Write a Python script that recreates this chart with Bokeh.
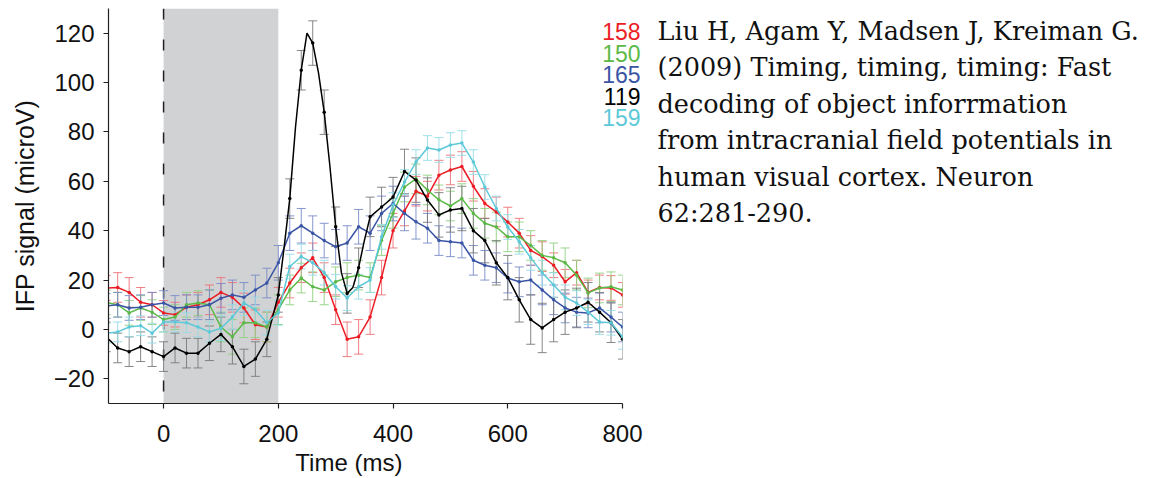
from bokeh.plotting import figure
from bokeh.layouts import row
from bokeh.models import (ColumnDataSource, Whisker, TeeHead, BoxAnnotation, Span,
                          Label, FixedTicker, Range1d)
from bokeh.embed import file_html
from bokeh.resources import INLINE

# ---------------- data ----------------
times = list(range(-100, 801, 20))

red_v = [16.8, 17, 15, 11, 10, 6.7, 6, 9, 10, 12, 15, 13, 8.7, 1.9, 1, 11, 18.8, 25, 29, 21,
         8, -4, -3, 5, 21, 40, 48, 56, 54, 62.5, 64.6, 66, 58, 51, 47.6, 43.5, 39, 32, 29.5, 26,
         19.3, 23, 15, 17, 16.8, 14]
red_err = [5, 6, 6, 6, 5, 5, 5, 5, 5, 6, 6, 6, 6, 6, 6, 6, 6, 6, 6, 6, 6, 7, 7, 7, 7, 7, 6, 6,
           6, 6, 6, 6, 6, 6, 6, 6, 6, 6, 6, 5, 5, 5, 5, 5, 5, 5]

green_v = [11, 10, 6.7, 8.7, 7, 4, 5, 10, 10.7, 10, 1, -3, 2.7, 2.7, 1, 8, 16, 20.8, 17.3, 16,
           19.3, 21, 22, 21, 36, 47, 57.7, 61, 56.5, 52.5, 50, 53, 47, 43, 41.5, 37.5, 37.5, 34,
           30, 29, 27, 22, 14.8, 16.8, 17.3, 16]
green_err = [5, 5, 5, 5, 5, 5, 5, 5, 5, 6, 6, 7, 6, 6, 6, 6, 6, 6, 6, 6, 6, 6, 6, 6, 6, 6, 6, 6,
             6, 6, 6, 6, 6, 6, 6, 6, 6, 6, 6, 6, 6, 6, 6, 6, 6, 6]

blue_v = [9.5, 10, 8.7, 9, 10, 10.7, 8.7, 9, 9, 10, 12.6, 14, 13, 16, 18.8, 27, 39, 42, 39, 36,
          33.5, 35, 41.6, 39, 47, 51, 47, 43.6, 41, 36, 35.5, 35, 28, 26, 25, 20.8, 19.3, 20,
          16, 12, 8.7, 7, 6.7, 8.7, 5, 1]
blue_err = [5, 5, 5, 5, 5, 5, 5, 5, 5, 6, 6, 6, 6, 6, 6, 7, 7, 7, 7, 7, 7, 7, 7, 7, 7, 7, 7, 7,
            6, 6, 6, 6, 6, 6, 6, 6, 6, 6, 6, 6, 6, 6, 6, 6, 6, 6]

black_t = [-100, -80, -60, -40, -20, 0, 20, 40, 60, 80, 100, 120, 140, 160, 180, 200, 210, 220,
           230, 240, 250, 260, 270, 280, 290, 300, 310, 320, 330, 340, 350, 360, 380, 400, 420,
           440, 460, 480, 500, 520, 540, 560, 580, 600, 620, 640, 660, 680, 700, 720, 740, 760,
           780, 800]
black_v = [-3, -7.5, -9, -7, -9, -11, -7.5, -9.6, -9.6, -5.6, -2, -7, -15, -12, -4, 14, 33, 53,
           82, 105, 120, 116, 104, 88, 66, 41.6, 23, 14.6, 17, 25, 36, 45.6, 49.6, 53.6, 64,
           60.5, 52.4, 46.4, 48.4, 49, 40, 36, 27, 21, 12, 4, 0.6, 4, 7, 8.7, 11, 7, 2.7, -4]
black_err = [6, 6, 6, 6, 6, 6, 6, 6, 6, 7, 7, 7, 7, 7, 7, 7, 8, 8, 8, 8, 9, 9, 9, 9, 9, 8, 8, 8,
             8, 8, 8, 8, 8, 8, 9, 9, 9, 9, 9, 9, 9, 9, 9, 9, 9, 10, 10, 9, 9, 8, 8, 8, 8, 8]

cyan_v = [-1.5, -1, 1, 1.5, -1.5, 3, 3, 2.7, 1, -1, 0.5, 5, 10.7, 8, 2.7, 6.7, 25.5, 29.5, 27,
          23, 17.3, 12.7, 17.3, 20, 37.5, 50.4, 59.7, 67.8, 73.5, 72.7, 74.7, 75.5, 67.8, 57.7,
          49, 41.5, 35.5, 29, 23, 18, 13, 10.7, 7, 3, 2.7, -3]
cyan_err = [4, 4, 4, 4, 4, 4, 4, 4, 4, 4, 5, 5, 5, 5, 5, 5, 5, 5, 5, 5, 5, 5, 5, 5, 5, 5, 5, 5,
            5, 5, 5, 5, 5, 5, 5, 5, 5, 5, 5, 5, 5, 5, 5, 5, 5, 5]

series_names = ["158", "150", "165", "119", "159"]
series_colors = ["#ec1c24", "#5bb947", "#3b55a5", "#000000", "#5dc9d8"]
err_colors = ["#f07075", "#8fd07f", "#7a8cc8", "#7a7a7a", "#95dbe5"]

stim_start, stim_end = 0, 200
x_ticks = [0, 200, 400, 600, 800]
y_ticks = [-20, 0, 20, 40, 60, 80, 100, 120]
y_tick_labels = ["\u221220", "0", "20", "40", "60", "80", "100", "120"]
x_label = "Time (ms)"
y_label = "IFP signal (microV)"

citation = ["Liu H, Agam Y, Madsen J, Kreiman G.",
            "(2009) Timing, timing, timing: Fast",
            "decoding of object inforrmation",
            "from intracranial field potentials in",
            "human visual cortex. Neuron",
            "62:281-290."]

# ---------------- main figure ----------------
X0, X1, Y0, Y1 = -96, 800, -30, 130
FL, FT, FW, FH = 108, 8, 514, 395   # frame position on the page (px)
H = 470
P1W = FL + FW + 28

p = figure(frame_width=FW, frame_height=FH, x_range=Range1d(X0, X1), y_range=Range1d(Y0, Y1),
           output_backend="svg", toolbar_location=None,
           min_border_left=FL, min_border_right=P1W - FL - FW,
           min_border_top=FT, min_border_bottom=H - FT - FH)
p.outline_line_color = None
p.grid.visible = False
p.background_fill_color = "white"

p.add_layout(BoxAnnotation(left=stim_start, right=stim_end, fill_color="#d1d2d4",
                           fill_alpha=1.0, line_color=None, level="image"))
p.add_layout(Span(location=stim_start, dimension="height", line_color="#231f20",
                  line_width=1.5, line_dash="11 20", level="underlay"))

all_t = [times, times, times, black_t, times]
all_v = [red_v, green_v, blue_v, black_v, cyan_v]
all_e = [red_err, green_err, blue_err, black_err, cyan_err]

for t, v, e, c, ec in zip(all_t, all_v, all_e, series_colors, err_colors):
    bt = [ti for ti in t if ti % 20 == 0]
    bv = [vi for ti, vi in zip(t, v) if ti % 20 == 0]
    be = [ei for ti, ei in zip(t, e) if ti % 20 == 0]
    src = ColumnDataSource(dict(t=bt, v=bv, lo=[a - b for a, b in zip(bv, be)],
                                up=[a + b for a, b in zip(bv, be)]))
    w = Whisker(base="t", lower="lo", upper="up", source=src, line_color=ec, line_width=1,
                line_alpha=0.9,
                upper_head=TeeHead(size=9, line_color=ec, line_width=1, line_alpha=0.9),
                lower_head=TeeHead(size=9, line_color=ec, line_width=1, line_alpha=0.9),
                level="underlay")
    p.add_layout(w)

for t, v, c in zip(all_t, all_v, series_colors):
    p.line(t, v, line_color=c, line_width=1.5)
    bt = [ti for ti in t if ti % 20 == 0]
    bv = [vi for ti, vi in zip(t, v) if ti % 20 == 0]
    p.scatter(bt, bv, size=3.5, color=c, line_color=None)

FONT = "Liberation Sans"
for ax in (p.xaxis, p.yaxis):
    ax.axis_line_color = "#231f20"
    ax.axis_line_width = 1.2
    ax.major_tick_line_color = "#231f20"
    ax.major_tick_line_width = 1.2
    ax.major_tick_out = 5
    ax.major_tick_in = 0
    ax.minor_tick_line_color = None
    ax.major_label_text_font = FONT
    ax.major_label_text_font_size = "24px"
    ax.major_label_text_color = "#111111"
    ax.axis_label_text_font = FONT
    ax.axis_label_text_font_style = "normal"
    ax.axis_label_text_color = "#111111"

p.xaxis.ticker = FixedTicker(ticks=x_ticks)
p.yaxis.ticker = FixedTicker(ticks=y_ticks)
p.yaxis.major_label_overrides = {k: lab for k, lab in zip(y_ticks, y_tick_labels)}
p.xaxis.major_label_standoff = 16
p.yaxis.major_label_standoff = 9
p.yaxis.axis_label = y_label
p.yaxis.axis_label_text_font_size = "25px"
p.yaxis.axis_label_standoff = 12
# trailing no-break spaces shift the centred label left, as in the reference
p.xaxis.axis_label = x_label + "\u00a0" * 5
p.xaxis.axis_label_text_font_size = "24px"
p.xaxis.axis_label_standoff = 4

# ---------------- text panel (overlaps the plot's empty right margin) ----------------
Q0 = 590                      # page x where the text panel starts
QDY = 17                      # measured vertical offset of the panel in the row
P2W = 1155 - Q0
q = figure(frame_width=P2W, frame_height=H, x_range=Range1d(0, P2W), y_range=Range1d(0, H),
           x_axis_location=None, y_axis_location=None, toolbar_location=None,
           output_backend="svg", min_border=0)
q.outline_line_color = None
q.grid.visible = False
q.background_fill_color = None
q.border_fill_color = None
q.styles = {"margin-left": f"-{P1W - Q0}px"}

for i, (name, c) in enumerate(zip(series_names, series_colors)):
    q.add_layout(Label(x=640 - Q0, y=H - (40 + 21.5 * i) + QDY, text=name, text_align="right",
                       text_baseline="alphabetic", text_font=FONT, text_font_size="23px",
                       text_color=c))

for i, line in enumerate(citation):
    q.add_layout(Label(x=657 - Q0, y=H - (39 + 36.5 * i) + QDY, text=line, text_align="left",
                       text_baseline="alphabetic", text_font="DejaVu Serif",
                       text_font_size="25.5px", text_color="#111111"))

layout = row(p, q)
open("out.html", "w").write(file_html(layout, INLINE))
